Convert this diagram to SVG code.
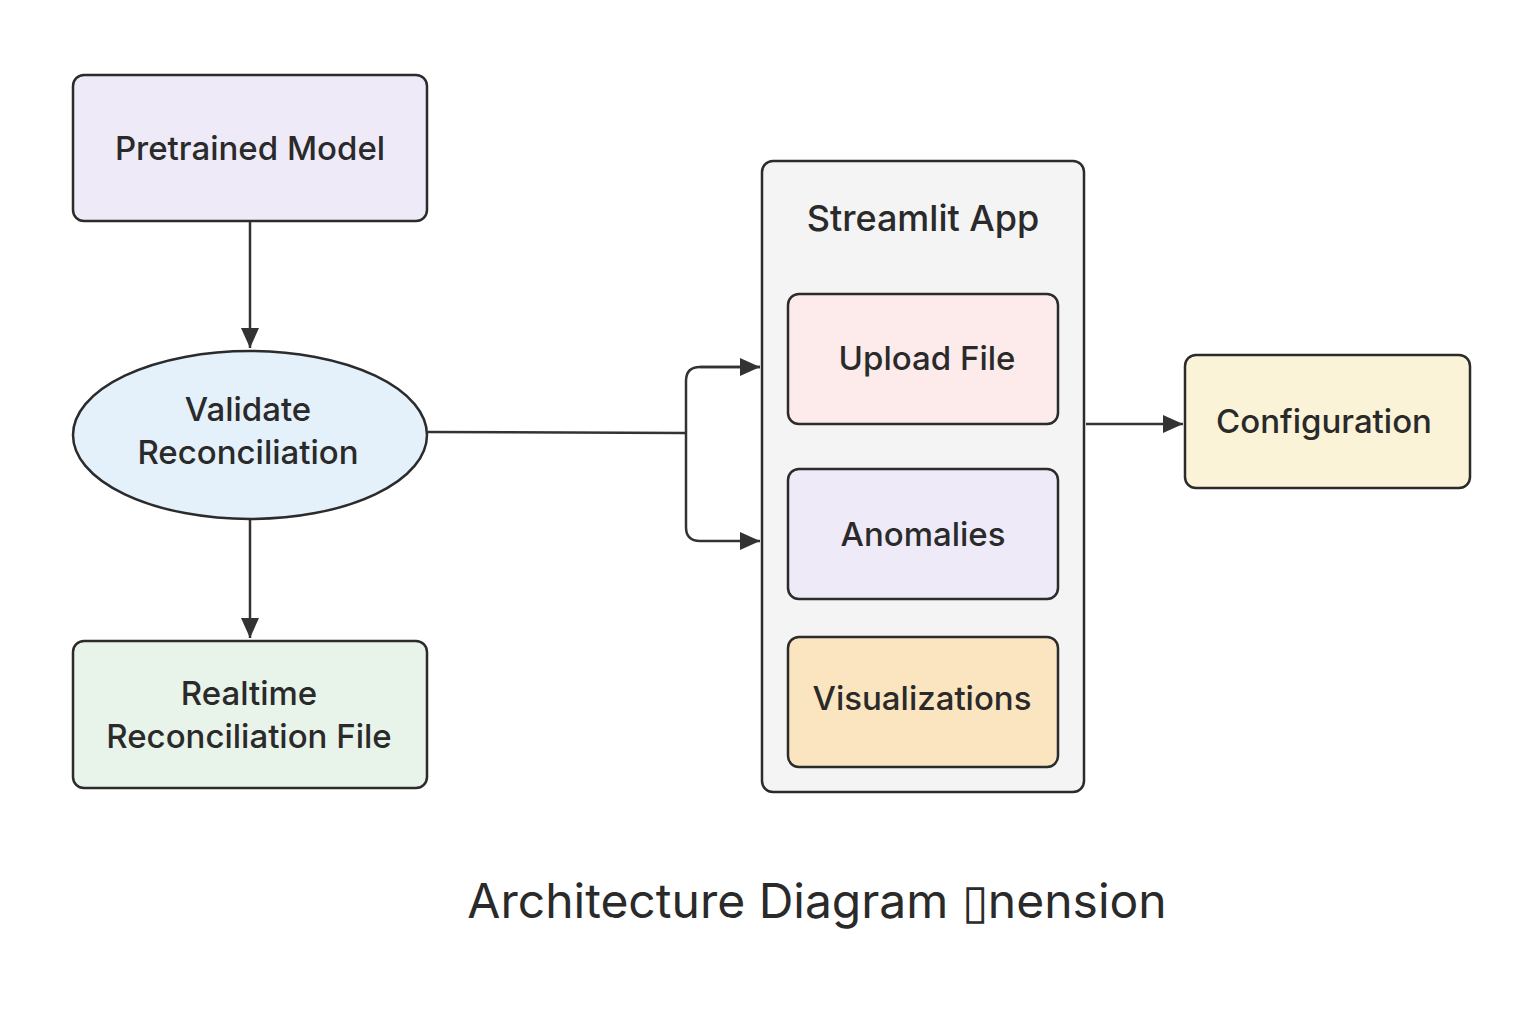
<svg xmlns="http://www.w3.org/2000/svg" width="1536" height="1024" viewBox="0 0 1536 1024">
<style>
.box{stroke:#2b2b2b;stroke-width:2.5}
.lbl{font-family:Inter,"Noto Sans","Liberation Sans",sans-serif;font-size:33px;font-weight:500;fill:#2a2a2a;text-anchor:middle}
.hdr{font-size:36px}
.edge{fill:none;stroke:#333;stroke-width:2.5}
.title{font-family:Inter,"Noto Sans","Liberation Sans",sans-serif;font-size:48px;font-weight:400;fill:#2a2a2a;text-anchor:middle}
</style>
<defs>
<marker id="arrB" viewBox="0 0 20 18" refX="20" refY="9" markerWidth="20" markerHeight="18" orient="auto" markerUnits="userSpaceOnUse">
<path d="M0,0 L20,9 L0,18 z" fill="#333"/>
</marker>
</defs>
<rect width="1536" height="1024" fill="#fff"/>
<g id="connectors">
<path class="edge" d="M250,222 V348" marker-end="url(#arrB)"/>
<path class="edge" d="M250,519 V638" marker-end="url(#arrB)"/>
<path class="edge" d="M428,432 L685,433"/>
<path class="edge" d="M760,367 H700 Q686,367 686,381 V527 Q686,541 700,541 H760" marker-end="url(#arrB)"/>
<path class="edge" d="M700,367 H760" marker-end="url(#arrB)"/>
<path class="edge" d="M1086,424 H1183" marker-end="url(#arrB)"/>
</g>
<g id="pretrained">
<rect class="box" x="73" y="75" width="354" height="146" rx="11" fill="#EEEAF8"/>
<text class="lbl" x="250" y="160">Pretrained Model</text>
</g>
<g id="validate">
<ellipse class="box" cx="250" cy="435" rx="177" ry="84" fill="#E4F1FA"/>
<text class="lbl" x="248" y="421">Validate</text>
<text class="lbl" x="248" y="464">Reconciliation</text>
</g>
<g id="realtime">
<rect class="box" x="73" y="641" width="354" height="147" rx="11" fill="#E8F3EA"/>
<text class="lbl" x="249" y="705">Realtime</text>
<text class="lbl" x="249" y="748">Reconciliation File</text>
</g>
<g id="streamlit">
<rect class="box" x="762" y="161" width="322" height="631" rx="11" fill="#F4F4F4"/>
<text class="lbl hdr" x="923" y="231">Streamlit App</text>
</g>
<g id="upload">
<rect class="box" x="788" y="294" width="270" height="130" rx="11" fill="#FDEBEB"/>
<text class="lbl" x="927" y="370">Upload File</text>
</g>
<g id="anomalies">
<rect class="box" x="788" y="469" width="270" height="130" rx="11" fill="#EFEAF8"/>
<text class="lbl" x="923" y="546">Anomalies</text>
</g>
<g id="visualizations">
<rect class="box" x="788" y="637" width="270" height="130" rx="11" fill="#FAE5C0"/>
<text class="lbl" x="922" y="710">Visualizations</text>
</g>
<g id="configuration">
<rect class="box" x="1185" y="355" width="285" height="133" rx="11" fill="#FBF3D8"/>
<text class="lbl" x="1324" y="433">Configuration</text>
</g>
<text class="title" x="817" y="918">Architecture Diagram ▯nension</text>
</svg>
